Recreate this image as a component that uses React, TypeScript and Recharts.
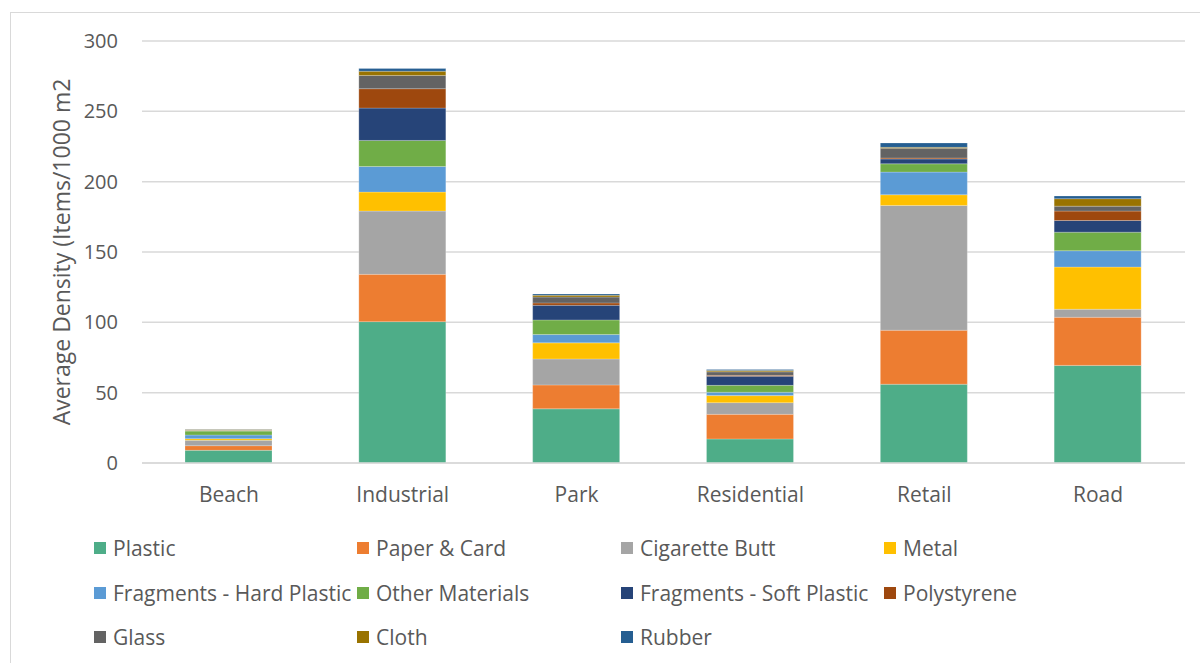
import { BarChart, Bar, XAxis, YAxis, CartesianGrid, Legend } from 'recharts'

const categories = ['Beach', 'Industrial', 'Park', 'Residential', 'Retail', 'Road']

const plastic = [9.0, 100.5, 38.5, 17.1, 56.0, 69.4]
const paperCard = [3.3, 33.6, 17.0, 17.5, 38.4, 34.2]
const cigaretteButt = [3.8, 45.0, 18.5, 8.3, 88.7, 5.7]
const metal = [1.2, 13.5, 11.4, 5.0, 7.6, 30.0]
const hardFragments = [2.6, 18.2, 5.9, 2.4, 16.1, 11.6]
const otherMaterials = [2.8, 18.5, 10.4, 4.9, 5.9, 13.2]
const softFragments = [0.3, 23.0, 10.4, 6.5, 3.4, 8.3]
const polystyrene = [0.1, 13.8, 1.7, 0.6, 0.7, 6.7]
const glass = [0.2, 9.4, 4.2, 2.5, 7.0, 3.5]
const cloth = [0.6, 3.0, 1.2, 1.0, 0.6, 5.3]
const rubber = [0.1, 1.9, 1.0, 0.6, 3.1, 1.9]

const yTicks = [0, 50, 100, 150, 200, 250, 300]

const series = [
  { key: 'Plastic', values: plastic, color: '#4EAD88' },
  { key: 'Paper & Card', values: paperCard, color: '#ED7D31' },
  { key: 'Cigarette Butt', values: cigaretteButt, color: '#A5A5A5' },
  { key: 'Metal', values: metal, color: '#FFC000' },
  { key: 'Fragments - Hard Plastic', values: hardFragments, color: '#5B9BD5' },
  { key: 'Other Materials', values: otherMaterials, color: '#70AD47' },
  { key: 'Fragments - Soft Plastic', values: softFragments, color: '#264478' },
  { key: 'Polystyrene', values: polystyrene, color: '#9E480E' },
  { key: 'Glass', values: glass, color: '#636363' },
  { key: 'Cloth', values: cloth, color: '#997300' },
  { key: 'Rubber', values: rubber, color: '#255E91' },
]

const chartData = categories.map((name, i) => {
  const row: Record<string, string | number> = { name }
  series.forEach((s) => { row[s.key] = s.values[i] })
  return row
})

const FONT = '"Open Sans", sans-serif'
const TEXT = '#595959'
const GRID = '#D9D9D9'

// legend sits in 4 columns, 3 rows, like the Excel original
const legendCols = [94, 357, 621, 884]

function LegendBox() {
  return (
    <div style={{ position: 'relative', width: 1200, height: 140, fontFamily: FONT, fontSize: 21, color: TEXT }}>
      {series.map((s, i) => {
        const col = i % 4
        const row = Math.floor(i / 4)
        return (
          <div
            key={s.key}
            style={{
              position: 'absolute',
              left: legendCols[col],
              top: 3 + row * 44.5,
              height: 44,
              display: 'flex',
              alignItems: 'center',
              whiteSpace: 'nowrap',
            }}
          >
            <span style={{ display: 'inline-block', width: 12, height: 12, background: s.color, marginRight: 7 }} />
            <span>{s.key}</span>
          </div>
        )
      })}
    </div>
  )
}

function YLabel(props: any) {
  const vb = props.viewBox || { x: 0, y: 41, width: 142, height: 422 }
  const cx = vb.x + 61
  const cy = vb.y + vb.height / 2
  return (
    <text
      x={cx}
      y={cy}
      transform={`rotate(-90 ${cx} ${cy})`}
      textAnchor="middle"
      dominantBaseline="central"
      fill={TEXT}
      fontSize={23}
      fontFamily={FONT}
    >
      Average Density (Items/1000 m2
    </text>
  )
}

export default function App() {
  return (
    <div style={{ position: 'absolute', left: 0, top: 0, width: 1200, height: 663, background: '#fff', overflow: 'hidden' }}>
      <div
        style={{
          position: 'absolute',
          left: 10,
          top: 12,
          width: 1300,
          height: 700,
          borderLeft: `1px solid ${GRID}`,
          borderTop: `1px solid ${GRID}`,
        }}
      />
      <BarChart
        width={1200}
        height={663}
        data={chartData}
        margin={{ top: 41, right: 15, left: 0, bottom: 0 }}
        barSize={87}
        style={{ fontFamily: FONT }}
      >
        <CartesianGrid vertical={false} stroke={GRID} strokeWidth={1.5} />
        <XAxis
          dataKey="name"
          height={60}
          axisLine={{ stroke: GRID, strokeWidth: 1.5 }}
          tickLine={false}
          tickSize={0}
          tickMargin={24}
          tick={{ fill: TEXT, fontSize: 21, fontFamily: FONT }}
        />
        <YAxis
          width={142}
          domain={[0, 300]}
          ticks={yTicks}
          axisLine={false}
          tickLine={false}
          tickSize={0}
          tickMargin={24}
          tick={{ fill: TEXT, fontSize: 20, fontFamily: FONT }}
          label={<YLabel />}
        />
        <Legend verticalAlign="bottom" wrapperStyle={{ left: 0, width: 1200 }} content={() => <LegendBox />} />
        {series.map((s) => (
          <Bar
            key={s.key}
            dataKey={s.key}
            stackId="a"
            fill={s.color}
            stroke="#ffffff"
            strokeOpacity={0.3}
            strokeWidth={0.75}
            isAnimationActive={false}
          />
        ))}
      </BarChart>
    </div>
  )
}
